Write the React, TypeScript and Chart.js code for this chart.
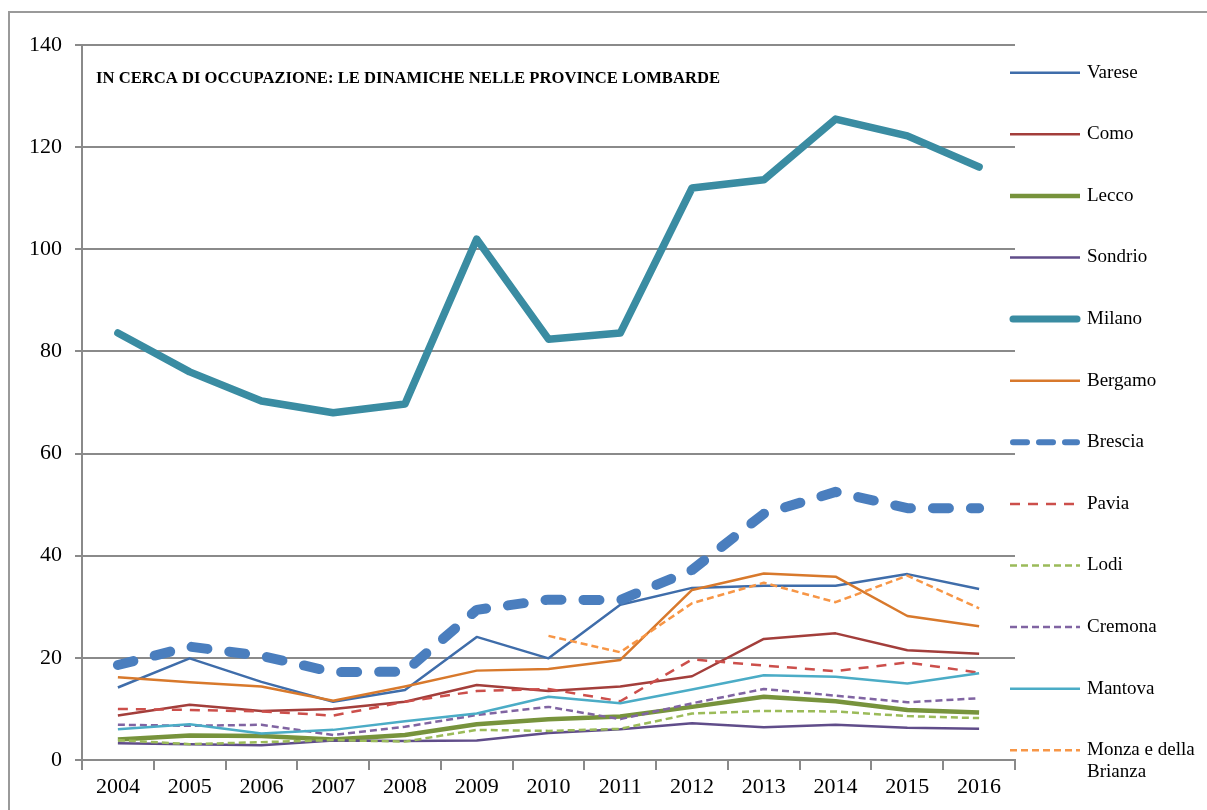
import React, { useEffect, useRef } from "react";
import { Chart, registerables } from "chart.js";

Chart.register(...registerables);

const years = ["2004","2005","2006","2007","2008","2009","2010","2011","2012","2013","2014","2015","2016"];

const varese = [14.2, 19.9, 15.3, 11.4, 13.7, 24.1, 19.9, 30.4, 33.7, 34.1, 34.1, 36.4, 33.5];
const como = [8.7, 10.8, 9.6, 10.0, 11.4, 14.7, 13.5, 14.4, 16.4, 23.7, 24.8, 21.5, 20.8];
const lecco = [4.0, 4.8, 4.7, 4.0, 4.9, 7.0, 8.0, 8.5, 10.4, 12.4, 11.5, 9.8, 9.3];
const sondrio = [3.3, 3.1, 2.9, 3.8, 3.7, 3.8, 5.3, 6.0, 7.2, 6.4, 6.9, 6.3, 6.1];
const milano = [83.6, 76.0, 70.3, 68.0, 69.7, 102.0, 82.4, 83.6, 112.0, 113.6, 125.5, 122.2, 116.1];
const bergamo = [16.2, 15.2, 14.4, 11.6, 14.4, 17.5, 17.8, 19.6, 33.3, 36.5, 35.9, 28.2, 26.2];
const brescia = [18.6, 22.2, 20.4, 17.2, 17.3, 29.4, 31.4, 31.3, 37.2, 48.2, 52.5, 49.3, 49.3];
const pavia = [10.0, 9.8, 9.5, 8.7, 11.4, 13.5, 13.9, 11.5, 19.7, 18.5, 17.4, 19.1, 17.1];
const lodi = [3.9, 3.1, 3.5, 3.9, 3.6, 5.9, 5.7, 6.1, 9.1, 9.6, 9.5, 8.6, 8.2];
const cremona = [6.9, 6.7, 6.9, 4.9, 6.5, 8.8, 10.4, 8.0, 11.1, 13.9, 12.6, 11.3, 12.1];
const mantova = [6.0, 7.0, 5.2, 5.9, 7.6, 9.1, 12.4, 11.1, 13.8, 16.6, 16.3, 15.0, 17.0];
const monza = [null, null, null, null, null, null, 24.3, 21.1, 30.7, 34.7, 30.9, 36.1, 29.7];

const yTicks = [0, 20, 40, 60, 80, 100, 120, 140];
const titleText = "IN CERCA DI OCCUPAZIONE: LE DINAMICHE NELLE PROVINCE LOMBARDE";

const FONT = '"Liberation Serif", "DejaVu Serif", serif';
const GRID = "#8a8a8a";

type S = { label: string; data: (number | null)[]; color: string; width: number; dash: number[]; cap?: CanvasLineCap; legendWidth?: number; legendDash?: number[] };

const series: S[] = [
  { label: "Varese", data: varese, color: "#3F6DAA", width: 2.5, dash: [] },
  { label: "Como", data: como, color: "#A33E3B", width: 2.5, dash: [] },
  { label: "Lecco", data: lecco, color: "#77933C", width: 4.5, dash: [] },
  { label: "Sondrio", data: sondrio, color: "#604D8A", width: 2.5, dash: [] },
  { label: "Milano", data: milano, color: "#3A8CA2", width: 7.5, dash: [], cap: "round" },
  { label: "Bergamo", data: bergamo, color: "#D8792C", width: 2.5, dash: [] },
  { label: "Brescia", data: brescia, color: "#4A7EBE", width: 10, dash: [16, 22], cap: "round", legendWidth: 6, legendDash: [14, 12] },
  { label: "Pavia", data: pavia, color: "#CC4F4B", width: 2.5, dash: [10, 8] },
  { label: "Lodi", data: lodi, color: "#9BBB59", width: 2.5, dash: [7, 4] },
  { label: "Cremona", data: cremona, color: "#8064A2", width: 2.5, dash: [7, 4] },
  { label: "Mantova", data: mantova, color: "#4BACC6", width: 2.5, dash: [] },
  { label: "Monza e della Brianza", data: monza, color: "#F79646", width: 2.5, dash: [7, 4] },
];

const framePlugin = {
  id: "frame",
  beforeDraw(chart: any) {
    const ctx = chart.ctx;
    ctx.save();
    ctx.fillStyle = "#ffffff";
    ctx.fillRect(0, 0, chart.width, chart.height);
    ctx.strokeStyle = "#9a9a9a";
    ctx.lineWidth = 2;
    ctx.beginPath();
    ctx.moveTo(9, chart.height + 5);
    ctx.lineTo(9, 12);
    ctx.lineTo(chart.width + 5, 12);
    ctx.stroke();
    ctx.restore();
  },
};

const titlePlugin = {
  id: "innerTitle",
  afterDraw(chart: any) {
    const ctx = chart.ctx;
    ctx.save();
    ctx.font = `bold 17px ${FONT}`;
    ctx.fillStyle = "#000";
    ctx.textBaseline = "alphabetic";
    const w = ctx.measureText(titleText).width;
    const target = 624;
    ctx.translate(96, 83);
    ctx.scale(target / w, 1);
    ctx.fillText(titleText, 0, 0);
    ctx.restore();
  },
};

const legendPlugin = {
  id: "customLegend",
  afterDraw(chart: any) {
    const ctx = chart.ctx;
    ctx.save();
    const x0 = 1010, x1 = 1080, tx = 1087;
    chart.data.datasets.forEach((ds: any, i: number) => {
      const y = 72.7 + i * 61.6;
      const s = series[i];
      ctx.beginPath();
      ctx.strokeStyle = ds.borderColor;
      ctx.lineWidth = s.legendWidth ?? Math.min(s.width, 7);
      ctx.lineCap = s.cap ?? "butt";
      ctx.setLineDash(s.legendDash ?? s.dash);
      const sx = s.cap === "round" ? x0 + 3 : x0;
      const ex = s.cap === "round" ? x1 - 3 : x1;
      ctx.moveTo(sx, y);
      ctx.lineTo(ex, y);
      ctx.stroke();
      ctx.setLineDash([]);
      ctx.font = `19px ${FONT}`;
      ctx.fillStyle = "#000";
      ctx.textBaseline = "middle";
      const words = String(ds.label).split(" ");
      const lines: string[] = [];
      let cur = "";
      for (const wd of words) {
        const t = cur ? cur + " " + wd : wd;
        if (ctx.measureText(t).width > 115 && cur) {
          lines.push(cur);
          cur = wd;
        } else cur = t;
      }
      lines.push(cur);
      lines.forEach((ln, k) => ctx.fillText(ln, tx, y + k * 21.7));
    });
    ctx.restore();
  },
};

export default function App() {
  const ref = useRef<HTMLCanvasElement | null>(null);
  useEffect(() => {
    if (!ref.current) return;
    const n = series.length;
    const chart = new Chart(ref.current, {
      type: "line",
      data: {
        labels: years,
        datasets: series.map((s, i) => ({
          label: s.label,
          data: s.data,
          borderColor: s.color,
          backgroundColor: s.color,
          borderWidth: s.width,
          borderDash: s.dash,
          borderCapStyle: s.cap ?? "butt",
          borderJoinStyle: "round",
          pointRadius: 0,
          pointHoverRadius: 0,
          tension: 0,
          fill: false,
          order: n - i,
        })) as any,
      },
      options: {
        responsive: false,
        animation: false,
        layout: { padding: { left: 0, right: 192, top: 45, bottom: 0 } },
        plugins: {
          legend: { display: false },
          title: { display: false },
          tooltip: { enabled: false },
        },
        scales: {
          x: {
            type: "category",
            offset: true,
            grid: {
              display: true,
              offset: true,
              drawOnChartArea: false,
              drawTicks: true,
              tickLength: 10,
              color: GRID,
              lineWidth: 2,
            },
            border: { display: true, color: GRID, width: 2 },
            ticks: {
              font: { family: FONT, size: 22 },
              color: "#000",
              padding: 4,
              maxRotation: 0,
              autoSkip: false,
            },
            afterFit(scale: any) {
              scale.height = 50;
            },
          },
          y: {
            min: 0,
            max: 140,
            afterBuildTicks(scale: any) {
              scale.ticks = yTicks.map((v) => ({ value: v }));
            },
            grid: {
              color: GRID,
              lineWidth: 2,
              tickLength: 7,
              drawTicks: true,
            },
            border: { display: true, color: GRID, width: 2 },
            ticks: {
              font: { family: FONT, size: 22 },
              color: "#000",
              padding: 13,
            },
            afterFit(scale: any) {
              scale.width = 82;
            },
          },
        },
      },
      plugins: [framePlugin, titlePlugin, legendPlugin],
    });
    return () => chart.destroy();
  }, []);
  return (
    <div style={{ position: "fixed", left: 0, top: 0, width: 1207, height: 810, background: "#fff" }}>
      <canvas ref={ref} width={1207} height={810} style={{ width: 1207, height: 810, display: "block" }} />
    </div>
  );
}
